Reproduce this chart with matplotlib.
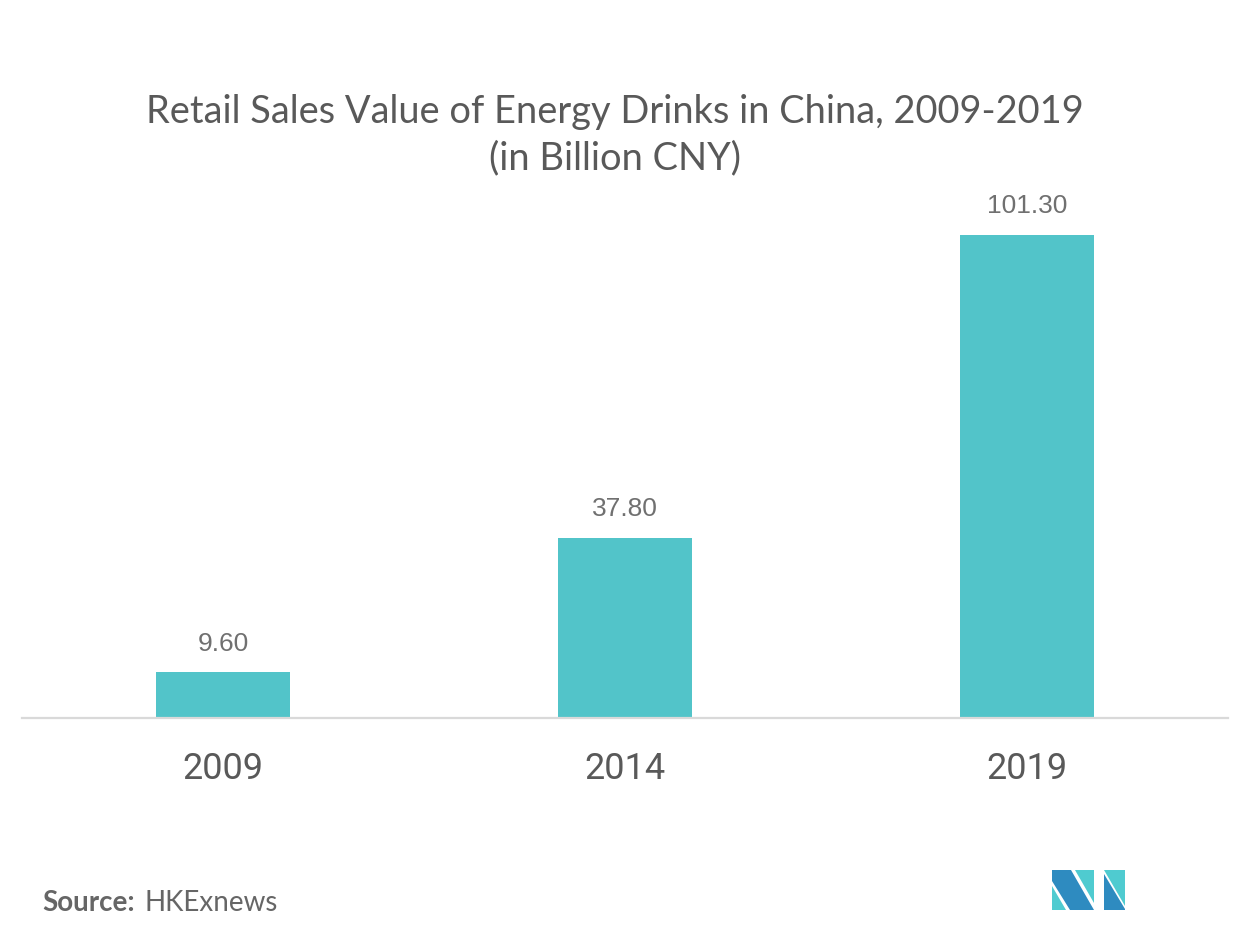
import matplotlib.pyplot as plt
from matplotlib.patches import Polygon

# Datos
years = ['2009', '2014', '2019']
sales = [9.60, 37.80, 101.30]

title = 'Retail Sales Value of Energy Drinks in China, 2009-2019\n(in Billion CNY)'
source_label = 'Source:'
source_name = 'HKExnews'

bar_color = '#52c4c9'
text_color = '#595959'

fig = plt.figure(figsize=(12.52, 9.39), dpi=100)
ax = fig.add_axes([0.0176, 0.2354, 0.9633, 0.5516])

x = range(len(years))
bars = ax.bar(x, sales, width=0.333, color=bar_color, zorder=2)
ax.set_xlim(-0.5, 2.5)
ax.set_ylim(0, 108.6)

# Etiquetas de valores
for rect, v in zip(bars, sales):
    ax.annotate(f'{v:.2f}', (rect.get_x() + rect.get_width() / 2, v),
                xytext=(0, 12), textcoords='offset points',
                ha='center', va='bottom', fontsize=19,
                family='Liberation Sans', color='#707070')

ax.set_xticks(list(x))
ax.set_xticklabels(years, fontsize=26, family='Roboto', color=text_color)
ax.tick_params(axis='x', length=0, pad=24)
ax.set_yticks([])
for s in ['top', 'right', 'left']:
    ax.spines[s].set_visible(False)
ax.spines['bottom'].set_color('#d9d9d9')
ax.spines['bottom'].set_linewidth(1.6)

fig.text(0.491, 0.856, title, ha='center', va='center', fontsize=27.4,
         family='Lato', color=text_color, linespacing=1.35)

fig.text(0.034, 0.038, source_label, ha='left', va='center', fontsize=20,
         family='Lato', weight='bold', color='#666666')
fig.text(0.1158, 0.038, source_name, ha='left', va='center', fontsize=20,
         family='Lato', color='#666666')

# Logo
W, H = 1252, 939
def poly(pts, color):
    p = Polygon([(px / W, 1 - py / H) for px, py in pts], closed=True,
                facecolor=color, edgecolor='none', transform=fig.transFigure)
    fig.patches.append(p)

dark = '#2e8bc0'
teal = '#4fcbd0'
poly([(1052, 870), (1071, 870), (1094, 910), (1070, 910), (1052, 881)], dark)
poly([(1052, 886), (1052, 910), (1066, 910)], teal)
poly([(1075, 870), (1094, 870), (1094, 903)], teal)
poly([(1104, 870), (1125, 870), (1125, 906)], teal)
poly([(1104, 874), (1104, 910), (1125, 910), (1125, 909)], dark)

fig.savefig('out.png', dpi=100)
